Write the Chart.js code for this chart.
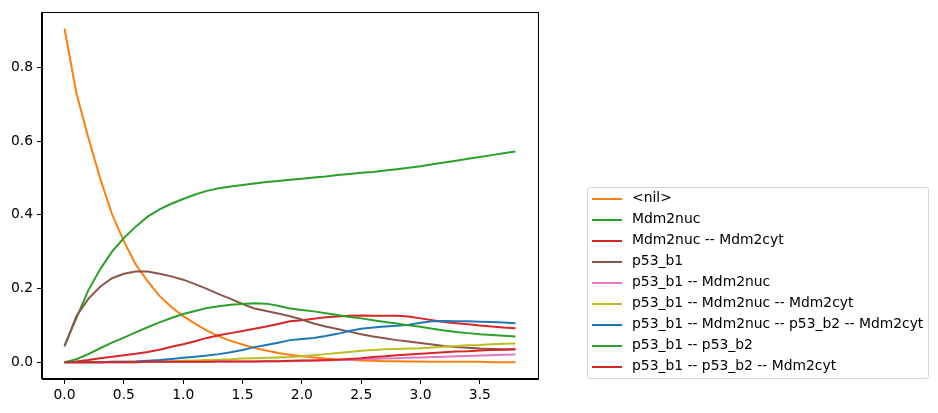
<!DOCTYPE html>
<html>
<head>
<meta charset="utf-8">
<script src="https://cdn.jsdelivr.net/npm/chart.js@4/dist/chart.umd.min.js"></script>
<style>
  body { margin: 0; background: #fff; }
  #wrap { position: relative; width: 938px; height: 413px; }
  #legend {
    position: absolute; left: 587px; top: 187px; width: 342px; height: 192px;
    border: 1px solid #d6d6d6; border-radius: 3px; box-sizing: border-box;
    font-family: 'DejaVu Sans', sans-serif; font-size: 13.89px; color: #000;
    padding-top: 0px;
  }
  .row { position: relative; height: 21px; }
  .row .sw { position: absolute; left: 4px; top: 9.5px; width: 30px; height: 2px; }
  .row .lb { position: absolute; left: 44px; top: 1px; white-space: nowrap; }
</style>
</head>
<body>
<div id="wrap">
  <canvas id="chart" width="938" height="413"></canvas>
  <div id="legend"></div>
</div>
<script>
// time points 0.0 .. 3.8
const times = [0.0, 0.1, 0.2, 0.3, 0.4, 0.5, 0.6, 0.7, 0.8, 0.9, 1.0, 1.1, 1.2, 1.3, 1.4, 1.5, 1.6, 1.7, 1.8, 1.9,
               2.0, 2.1, 2.2, 2.3, 2.4, 2.5, 2.6, 2.7, 2.8, 2.9, 3.0, 3.1, 3.2, 3.3, 3.4, 3.5, 3.6, 3.7, 3.8];

const seriesNames = ['<nil>', 'Mdm2nuc', 'Mdm2nuc -- Mdm2cyt', 'p53_b1', 'p53_b1 -- Mdm2nuc',
  'p53_b1 -- Mdm2nuc -- Mdm2cyt', 'p53_b1 -- Mdm2nuc -- p53_b2 -- Mdm2cyt', 'p53_b1 -- p53_b2',
  'p53_b1 -- p53_b2 -- Mdm2cyt'];

const nil = [0.905, 0.73, 0.61, 0.499, 0.402, 0.328, 0.265, 0.22, 0.18, 0.15, 0.125, 0.105, 0.086, 0.07, 0.058, 0.048,
  0.039, 0.032, 0.025, 0.02, 0.016, 0.013, 0.01, 0.008, 0.007, 0.005, 0.004, 0.003, 0.003, 0.002, 0.002, 0.001,
  0.001, 0.001, 0.001, 0.001, 0.0, 0.0, 0.0];
const mdm2nuc = [0.045, 0.12, 0.195, 0.252, 0.3, 0.337, 0.368, 0.395, 0.415, 0.43, 0.443, 0.455, 0.465, 0.472, 0.477,
  0.481, 0.485, 0.489, 0.492, 0.495, 0.498, 0.501, 0.504, 0.508, 0.511, 0.514, 0.516, 0.52, 0.524, 0.528, 0.532,
  0.537, 0.542, 0.547, 0.552, 0.557, 0.562, 0.567, 0.572];
const mdm2nucMdm2cyt = [0, 0.002, 0.006, 0.011, 0.015, 0.019, 0.023, 0.028, 0.034, 0.042, 0.049, 0.057, 0.066, 0.073,
  0.079, 0.085, 0.091, 0.097, 0.104, 0.111, 0.114, 0.118, 0.122, 0.124, 0.126, 0.127, 0.126, 0.126, 0.126, 0.124,
  0.119, 0.114, 0.109, 0.106, 0.103, 0.1, 0.097, 0.094, 0.092];
const p53b1 = [0.043, 0.125, 0.172, 0.205, 0.228, 0.24, 0.246, 0.246, 0.24, 0.233, 0.224, 0.212, 0.199, 0.185, 0.172,
  0.158, 0.146, 0.139, 0.132, 0.125, 0.116, 0.105, 0.097, 0.09, 0.083, 0.076, 0.07, 0.065, 0.06, 0.056, 0.052, 0.048,
  0.044, 0.041, 0.039, 0.037, 0.036, 0.035, 0.035];
const p53b1Mdm2nuc = [0, 0, 0, 0, 0, 0, 0, 0.001, 0.001, 0.001, 0.001, 0.001, 0.001, 0.002, 0.002, 0.002, 0.002,
  0.003, 0.003, 0.003, 0.004, 0.005, 0.005, 0.006, 0.007, 0.008, 0.009, 0.01, 0.011, 0.012, 0.013, 0.014, 0.015,
  0.016, 0.017, 0.018, 0.019, 0.02, 0.021];
const p53b1Mdm2nucMdm2cyt = [0, 0, 0, 0, 0.001, 0.001, 0.002, 0.002, 0.003, 0.003, 0.004, 0.005, 0.006, 0.007, 0.008,
  0.01, 0.011, 0.012, 0.013, 0.014, 0.016, 0.019, 0.022, 0.025, 0.028, 0.031, 0.033, 0.035, 0.036, 0.037, 0.038,
  0.04, 0.042, 0.044, 0.046, 0.047, 0.049, 0.05, 0.051];
const p53b1Mdm2nucP53b2Mdm2cyt = [0, 0, 0, 0, 0.001, 0.001, 0.002, 0.004, 0.006, 0.009, 0.012, 0.015, 0.018, 0.022,
  0.027, 0.033, 0.041, 0.047, 0.053, 0.06, 0.063, 0.066, 0.071, 0.077, 0.085, 0.091, 0.094, 0.097, 0.099, 0.102,
  0.107, 0.111, 0.112, 0.111, 0.111, 0.11, 0.109, 0.108, 0.106];
const p53b1P53b2 = [0, 0.008, 0.022, 0.038, 0.053, 0.067, 0.081, 0.095, 0.108, 0.12, 0.131, 0.139, 0.147, 0.152,
  0.156, 0.158, 0.16, 0.159, 0.153, 0.146, 0.142, 0.138, 0.133, 0.128, 0.123, 0.119, 0.114, 0.109, 0.105, 0.1, 0.096,
  0.091, 0.086, 0.082, 0.079, 0.076, 0.074, 0.072, 0.07];
const p53b1P53b2Mdm2cyt = [0, 0, 0, 0, 0, 0, 0, 0.001, 0.001, 0.001, 0.001, 0.001, 0.001, 0.002, 0.002, 0.002,
  0.002, 0.003, 0.003, 0.004, 0.005, 0.005, 0.006, 0.007, 0.009, 0.011, 0.014, 0.016, 0.019, 0.021, 0.023, 0.025,
  0.027, 0.029, 0.03, 0.032, 0.033, 0.034, 0.035];

const allValues = [nil, mdm2nuc, mdm2nucMdm2cyt, p53b1, p53b1Mdm2nuc, p53b1Mdm2nucMdm2cyt,
  p53b1Mdm2nucP53b2Mdm2cyt, p53b1P53b2, p53b1P53b2Mdm2cyt];

const colors = ['#ff7f0e', '#2ca02c', '#d62728', '#8c564b', '#e377c2', '#bcbd22', '#1f77b4', '#2ca02c', '#d62728'];

Chart.defaults.font.family = "'DejaVu Sans', sans-serif";
Chart.defaults.font.size = 13.89;
Chart.defaults.color = '#000';

const datasets = seriesNames.map((name, i) => ({
  label: name,
  data: times.map((t, k) => ({ x: t, y: allValues[i][k] })),
  borderColor: colors[i],
  backgroundColor: colors[i],
  borderWidth: 2,
  pointRadius: 0,
  tension: 0,
  fill: false,
  order: seriesNames.length - i
}));

// frame around the plot like matplotlib spines
const frame = {
  id: 'frame',
  afterDatasetsDraw(chart) {
    const a = chart.chartArea, c = chart.ctx;
    c.save();
    c.strokeStyle = '#000';
    c.lineWidth = 1;
    c.strokeRect(Math.round(a.left) - 0.5, Math.round(a.top) + 0.5,
      Math.round(a.right - a.left) + 1, Math.round(a.bottom - a.top) - 1);
    c.restore();
  }
};

new Chart(document.getElementById('chart'), {
  type: 'line',
  data: { datasets },
  options: {
    responsive: false,
    animation: false,
    layout: { padding: { top: 10, right: 400, left: 0, bottom: 0 } },
    plugins: { legend: { display: false }, tooltip: { enabled: false } },
    scales: {
      x: {
        type: 'linear', min: -0.19, max: 3.99,
        grid: { drawOnChartArea: false, drawTicks: true, tickLength: 5, color: '#000' },
        border: { display: true, color: '#000' },
        ticks: { stepSize: 0.5, includeBounds: false, autoSkip: false, maxRotation: 0, padding: 3,
                 callback: v => v.toFixed(1) },
        afterFit: s => { s.height = 34; }
      },
      y: {
        min: -0.0455, max: 0.9495,
        grid: { drawOnChartArea: false, drawTicks: true, tickLength: 5, color: '#000' },
        border: { display: true, color: '#000' },
        ticks: { stepSize: 0.2, includeBounds: false, autoSkip: false, padding: 4,
                 callback: v => v.toFixed(1) },
        afterFit: s => { s.width = 42; }
      }
    }
  },
  plugins: [frame]
});

// legend built from the same names and colours
const leg = document.getElementById('legend');
seriesNames.forEach((name, i) => {
  const row = document.createElement('div');
  row.className = 'row';
  const sw = document.createElement('div');
  sw.className = 'sw';
  sw.style.background = colors[i];
  const lb = document.createElement('div');
  lb.className = 'lb';
  lb.textContent = name;
  row.appendChild(sw);
  row.appendChild(lb);
  leg.appendChild(row);
});
</script>
</body>
</html>
